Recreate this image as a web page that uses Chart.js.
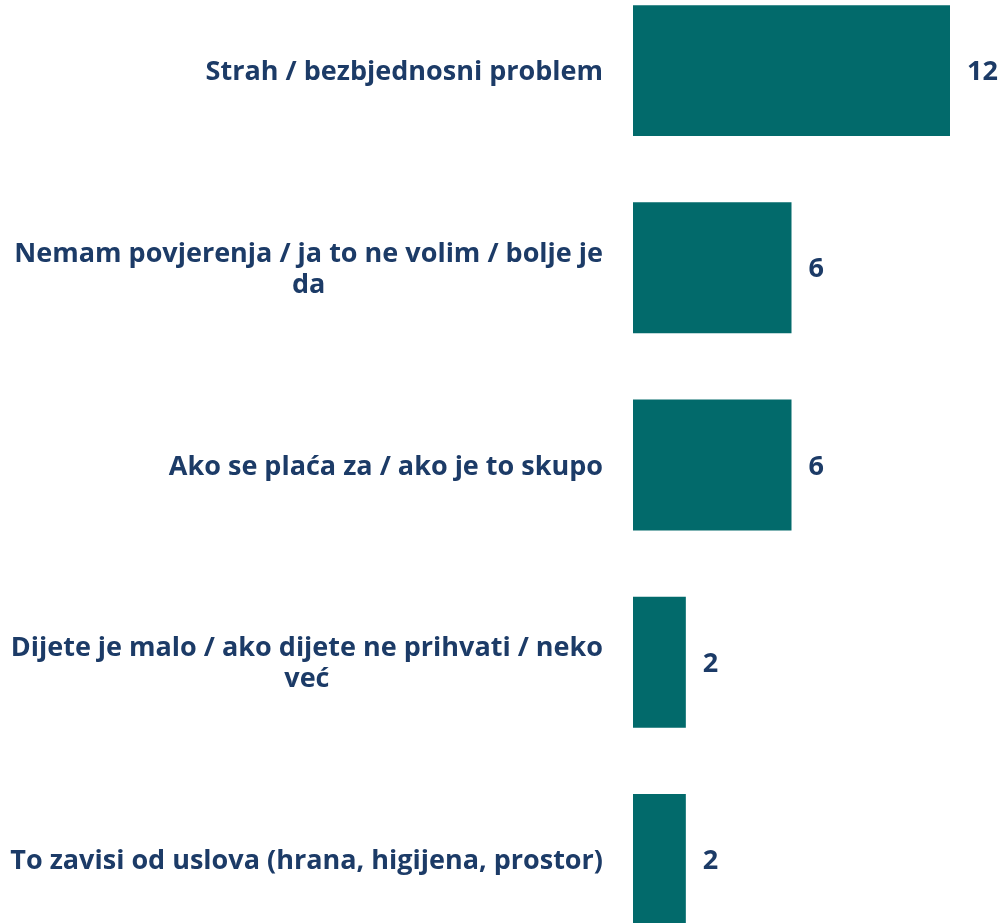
<!DOCTYPE html>
<html>
<head>
<meta charset="utf-8">
<script src="https://cdn.jsdelivr.net/npm/chart.js@4"></script>
<style>
    html, body { margin: 0; padding: 0; background: #fff; }
    .wrap { position: relative; width: 1000px; height: 923px; overflow: hidden; }
    .box { position: absolute; left: 0; top: -28px; width: 1000px; height: 986px; }
</style>
</head>
<body>
<div class="wrap">
    <div class="box"><canvas id="chart"></canvas></div>
</div>
<script>
const categories = [
    ['Strah / bezbjednosni problem'],
    ['Nemam povjerenja / ja to ne volim / bolje je', 'da'],
    ['Ako se plaća za / ako je to skupo'],
    ['Dijete je malo / ako dijete ne prihvati / neko', 'već'],
    ['To zavisi od uslova (hrana, higijena, prostor)']
];
const counts = [12, 6, 6, 2, 2];

const textColor = '#1C3B67';
const barColor = '#026A6B';
const fontSpec = 'bold 27px "Open Sans"';

// category labels: block right-aligned to the axis, lines centred inside the block
const categoryLabels = {
    id: 'categoryLabels',
    afterDraw(chart) {
        const ctx = chart.ctx;
        const y = chart.scales.y;
        const right = y.right - 30;
        const lh = 31;
        ctx.save();
        ctx.font = fontSpec;
        ctx.fillStyle = textColor;
        ctx.textAlign = 'center';
        ctx.textBaseline = 'middle';
        categories.forEach((lines, i) => {
            const cy = y.getPixelForValue(i) + 2;
            const w = Math.max(...lines.map(l => ctx.measureText(l).width));
            const cx = right - w / 2;
            const top = cy - (lines.length - 1) * lh / 2;
            lines.forEach((l, j) => ctx.fillText(l, cx, top + j * lh));
        });
        ctx.restore();
    }
};

const valueLabels = {
    id: 'valueLabels',
    afterDatasetsDraw(chart) {
        const ctx = chart.ctx;
        ctx.save();
        ctx.font = fontSpec;
        ctx.fillStyle = textColor;
        ctx.textAlign = 'left';
        ctx.textBaseline = 'middle';
        chart.getDatasetMeta(0).data.forEach((bar, i) => {
            ctx.fillText(String(counts[i]), bar.x + 17, bar.y + 2);
        });
        ctx.restore();
    }
};

new Chart(document.getElementById('chart'), {
    type: 'bar',
    data: {
        labels: categories.map(c => c.join(' ')),
        datasets: [{
            data: counts,
            backgroundColor: barColor,
            borderWidth: 0,
            categoryPercentage: 1,
            barPercentage: 0.664
        }]
    },
    options: {
        indexAxis: 'y',
        responsive: true,
        maintainAspectRatio: false,
        animation: false,
        layout: { padding: { left: 0, right: 50, top: 0, bottom: 0 } },
        plugins: { legend: { display: false }, tooltip: { enabled: false } },
        scales: {
            x: { display: false, min: 0, max: 12 },
            y: {
                grid: { display: false },
                border: { display: false },
                ticks: { display: false },
                afterFit(scale) { scale.width = 633; }
            }
        }
    },
    plugins: [categoryLabels, valueLabels]
});
</script>
</body>
</html>
